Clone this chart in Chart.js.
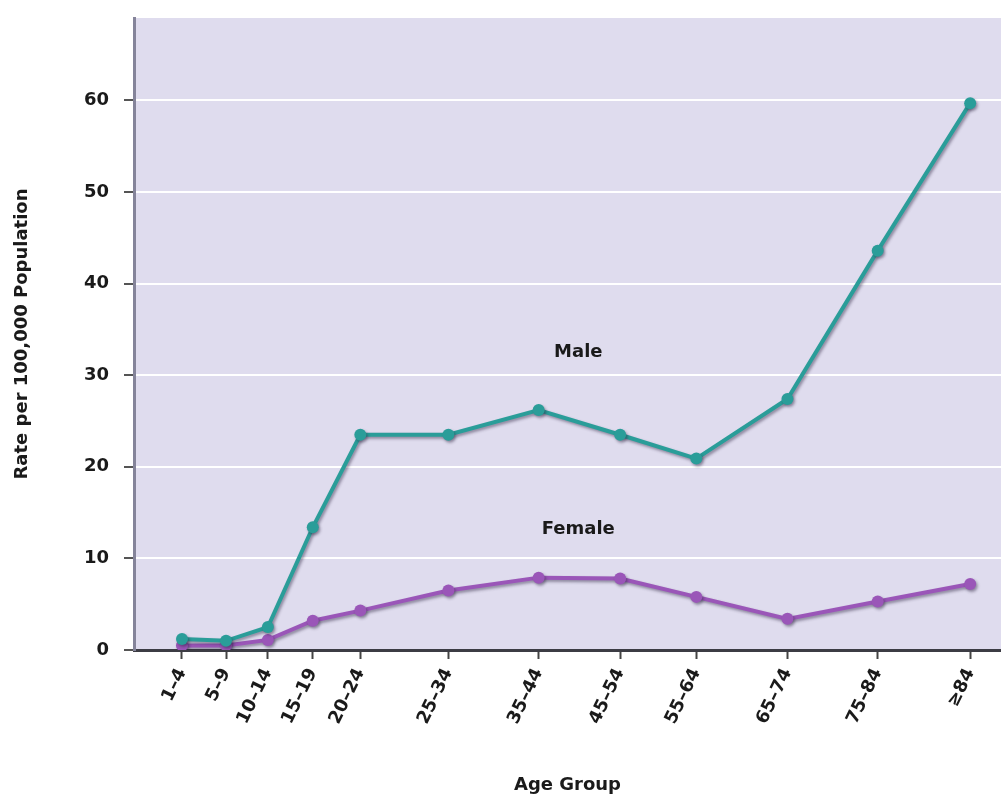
<!DOCTYPE html>
<html>
<head>
<meta charset="utf-8">
<script src="https://cdn.jsdelivr.net/npm/chart.js@4.4.0/dist/chart.umd.min.js"></script>
<style>
  html, body { margin: 0; padding: 0; background: #fff; }
  #wrap { width: 1001px; height: 799px; }
</style>
</head>
<body>
<div id="wrap"><canvas id="Linechart" width="1001" height="799"></canvas></div>
<script>
const ageGroups = ['1\u20134', '5\u20139', '10\u201314', '15\u201319', '20\u201324', '25\u201334', '35\u201344', '45\u201354', '55\u201364', '65\u201374', '75\u201384', '\u226584'];
// where each group sits along the axis (the narrow groups are closer together)
const agePos = [0, 1, 1.95, 2.97, 4.05, 6.05, 8.1, 9.95, 11.68, 13.75, 15.8, 17.9];
const maleRate = [1.2, 1.0, 2.5, 13.4, 23.5, 23.5, 26.2, 23.5, 20.9, 27.4, 43.6, 59.7];
const femaleRate = [0.5, 0.5, 1.1, 3.2, 4.3, 6.5, 7.9, 7.8, 5.8, 3.4, 5.3, 7.2];
const yTicks = [0, 10, 20, 30, 40, 50, 60];

const maleColor = '#2a9d99';
const femaleColor = '#9a56b8';

function pts(values) {
  return values.map((v, i) => ({ x: agePos[i], y: v }));
}

// lavender plot background
const plotBg = {
  id: 'plotBg',
  beforeDraw(chart) {
    const a = chart.chartArea;
    const ctx = chart.ctx;
    ctx.save();
    ctx.fillStyle = '#dfdcee';
    ctx.fillRect(a.left, a.top, a.right - a.left, a.bottom - a.top);
    ctx.restore();
  }
};

// soft drop shadow under the lines
const lineShadow = {
  id: 'lineShadow',
  beforeDatasetDraw(chart) {
    const ctx = chart.ctx;
    ctx.save();
    ctx.shadowColor = 'rgba(40,30,60,0.45)';
    ctx.shadowBlur = 3;
    ctx.shadowOffsetX = 1.5;
    ctx.shadowOffsetY = 2;
  },
  afterDatasetDraw(chart) {
    chart.ctx.restore();
  }
};

// "Male" / "Female" labels inside the plot
const seriesNames = {
  id: 'seriesNames',
  afterDatasetsDraw(chart) {
    const ctx = chart.ctx;
    const x = chart.scales.x, y = chart.scales.y;
    ctx.save();
    ctx.font = 'bold 18px "DejaVu Sans"';
    ctx.fillStyle = '#1a1a1a';
    ctx.textAlign = 'center';
    ctx.textBaseline = 'middle';
    ctx.fillText('Male', x.getPixelForValue(9.0), y.getPixelForValue(32.5));
    ctx.fillText('Female', x.getPixelForValue(9.0), y.getPixelForValue(13.2));
    ctx.restore();
  }
};

const Lineconfig = {
  type: 'line',
  data: {
    datasets: [
      {
        label: 'Male',
        data: pts(maleRate),
        borderColor: maleColor,
        backgroundColor: maleColor,
        borderWidth: 4,
        pointRadius: 6,
        pointHoverRadius: 6,
        pointBorderWidth: 0,
        tension: 0
      },
      {
        label: 'Female',
        data: pts(femaleRate),
        borderColor: femaleColor,
        backgroundColor: femaleColor,
        borderWidth: 4,
        pointRadius: 6,
        pointHoverRadius: 6,
        pointBorderWidth: 0,
        tension: 0
      }
    ]
  },
  options: {
    responsive: false,
    animation: false,
    layout: { autoPadding: false, padding: { top: 18, right: 0, left: 0, bottom: 0 } },
    plugins: {
      legend: { display: false },
      tooltip: { enabled: false }
    },
    scales: {
      x: {
        type: 'linear',
        min: -1.09,
        max: 18.6,
        afterBuildTicks(scale) {
          scale.ticks = agePos.map(v => ({ value: v }));
        },
        afterFit(scale) {
          scale.height = 149;
          scale.paddingRight = 0;
          scale.paddingLeft = 0;
        },
        grid: {
          drawOnChartArea: false,
          tickColor: '#444',
          tickLength: 9,
          tickWidth: 2
        },
        border: { color: '#3c3c44', width: 3 },
        ticks: {
          autoSkip: false,
          minRotation: 64,
          maxRotation: 64,
          padding: 6,
          color: '#1a1a1a',
          font: { family: 'DejaVu Sans', size: 18, weight: 'bold' },
          callback: (v, i) => ageGroups[i]
        },
        title: {
          display: true,
          text: 'Age Group',
          color: '#1a1a1a',
          font: { family: 'DejaVu Sans', size: 18, weight: 'bold' },
          padding: { top: 0, bottom: 3 }
        }
      },
      y: {
        min: 0,
        max: 69,
        afterBuildTicks(scale) {
          scale.ticks = yTicks.map(v => ({ value: v }));
        },
        afterFit(scale) {
          scale.width = 134;
          scale.paddingTop = 0;
          scale.paddingBottom = 0;
        },
        grid: {
          color: '#ffffff',
          lineWidth: 2,
          tickColor: '#555',
          tickLength: 10,
          tickWidth: 2
        },
        border: { color: '#85849a', width: 3 },
        ticks: {
          padding: 15,
          color: '#1a1a1a',
          font: { family: 'DejaVu Sans', size: 18, weight: 'bold' }
        },
        title: {
          display: true,
          text: 'Rate per 100,000 Population',
          color: '#1a1a1a',
          font: { family: 'DejaVu Sans', size: 18, weight: 'bold' },
          padding: { top: 12, bottom: 0 }
        }
      }
    }
  },
  plugins: [plotBg, lineShadow, seriesNames]
};

var Linechart = new Chart(
  document.getElementById('Linechart'),
  Lineconfig
);
</script>
</body>
</html>
